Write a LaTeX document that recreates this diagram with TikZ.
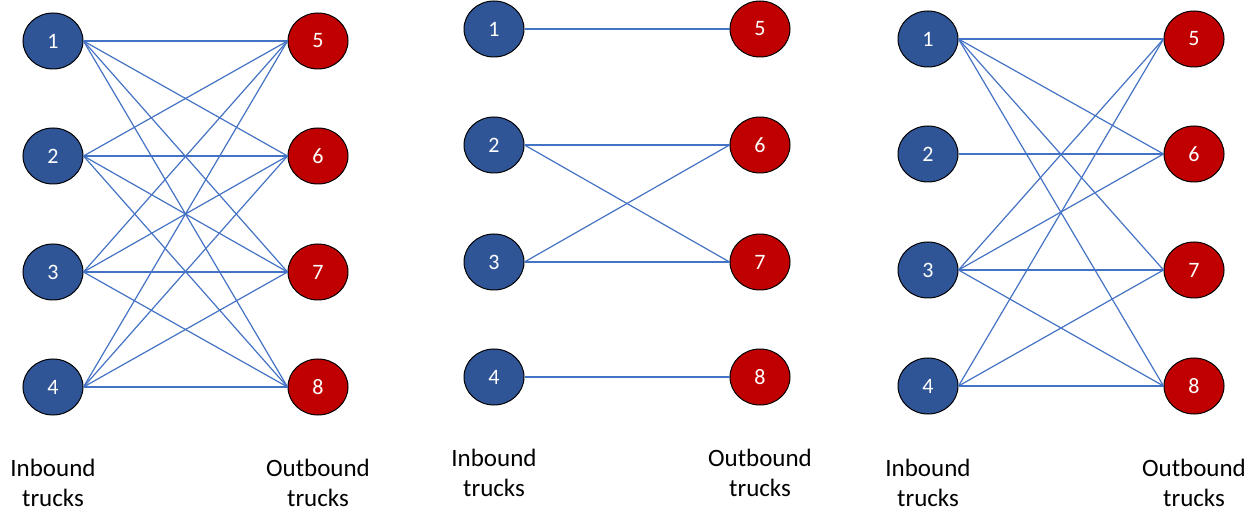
\documentclass[tikz,border=0pt]{standalone}
\usepackage{fontspec}
\setmainfont{Carlito}
\usetikzlibrary{shapes.geometric}
\definecolor{inblue}{HTML}{2F5597}
\definecolor{outred}{HTML}{C00000}
\definecolor{edgeblue}{HTML}{4472C4}
\begin{document}
\begin{tikzpicture}[x=1pt,y=-1pt,
  truck/.style={ellipse,draw=black,line width=1pt,minimum width=60pt,minimum height=56pt,inner sep=0pt,text=white,font=\fontsize{22}{22}\selectfont},
  inb/.style={truck,fill=inblue},
  outb/.style={truck,fill=outred},
  link/.style={draw=edgeblue,line width=1.2pt},
  lbl/.style={align=center,font=\fontsize{25}{30}\selectfont,text=black,inner sep=0pt}]
\useasboundingbox (0,0) rectangle (1250,510);
% Panel A
\foreach \n/\y in {1/41,2/156,3/272,4/387} \node[inb] (a\n) at (53,\y) {\n};
\foreach \n/\y in {5/41,6/156,7/272,8/387} \node[outb] (a\n) at (318,\y) {\n};
\foreach \i in {1,2,3,4} \foreach \j in {5,6,7,8} \draw[link] (a\i.east) -- (a\j.west);
\node[lbl] (ain) at (53,483) {Inbound\\trucks};
\node[lbl] (aout) at (318,483) {Outbound\\trucks};
% Panel B
\foreach \n/\y in {1/29,2/145,3/262,4/377} \node[inb] (b\n) at (494,\y) {\n};
\foreach \n/\y in {5/29,6/145,7/262,8/377} \node[outb] (b\n) at (760,\y) {\n};
\foreach \i/\j in {1/5,2/6,2/7,3/6,3/7,4/8} \draw[link] (b\i.east) -- (b\j.west);
\node[lbl] (bin) at (494,473) {Inbound\\trucks};
\node[lbl] (bout) at (760,473) {Outbound\\trucks};
% Panel C
\foreach \n/\y in {1/39,2/154,3/270,4/386} \node[inb] (c\n) at (928,\y) {\n};
\foreach \n/\y in {5/39,6/154,7/270,8/386} \node[outb] (c\n) at (1194,\y) {\n};
\foreach \i/\j in {1/5,1/6,1/7,1/8,2/6,3/5,3/6,3/7,3/8,4/5,4/7,4/8} \draw[link] (c\i.east) -- (c\j.west);
\node[lbl] (cin) at (928,483) {Inbound\\trucks};
\node[lbl] (cout) at (1194,483) {Outbound\\trucks};
\end{tikzpicture}
\end{document}
